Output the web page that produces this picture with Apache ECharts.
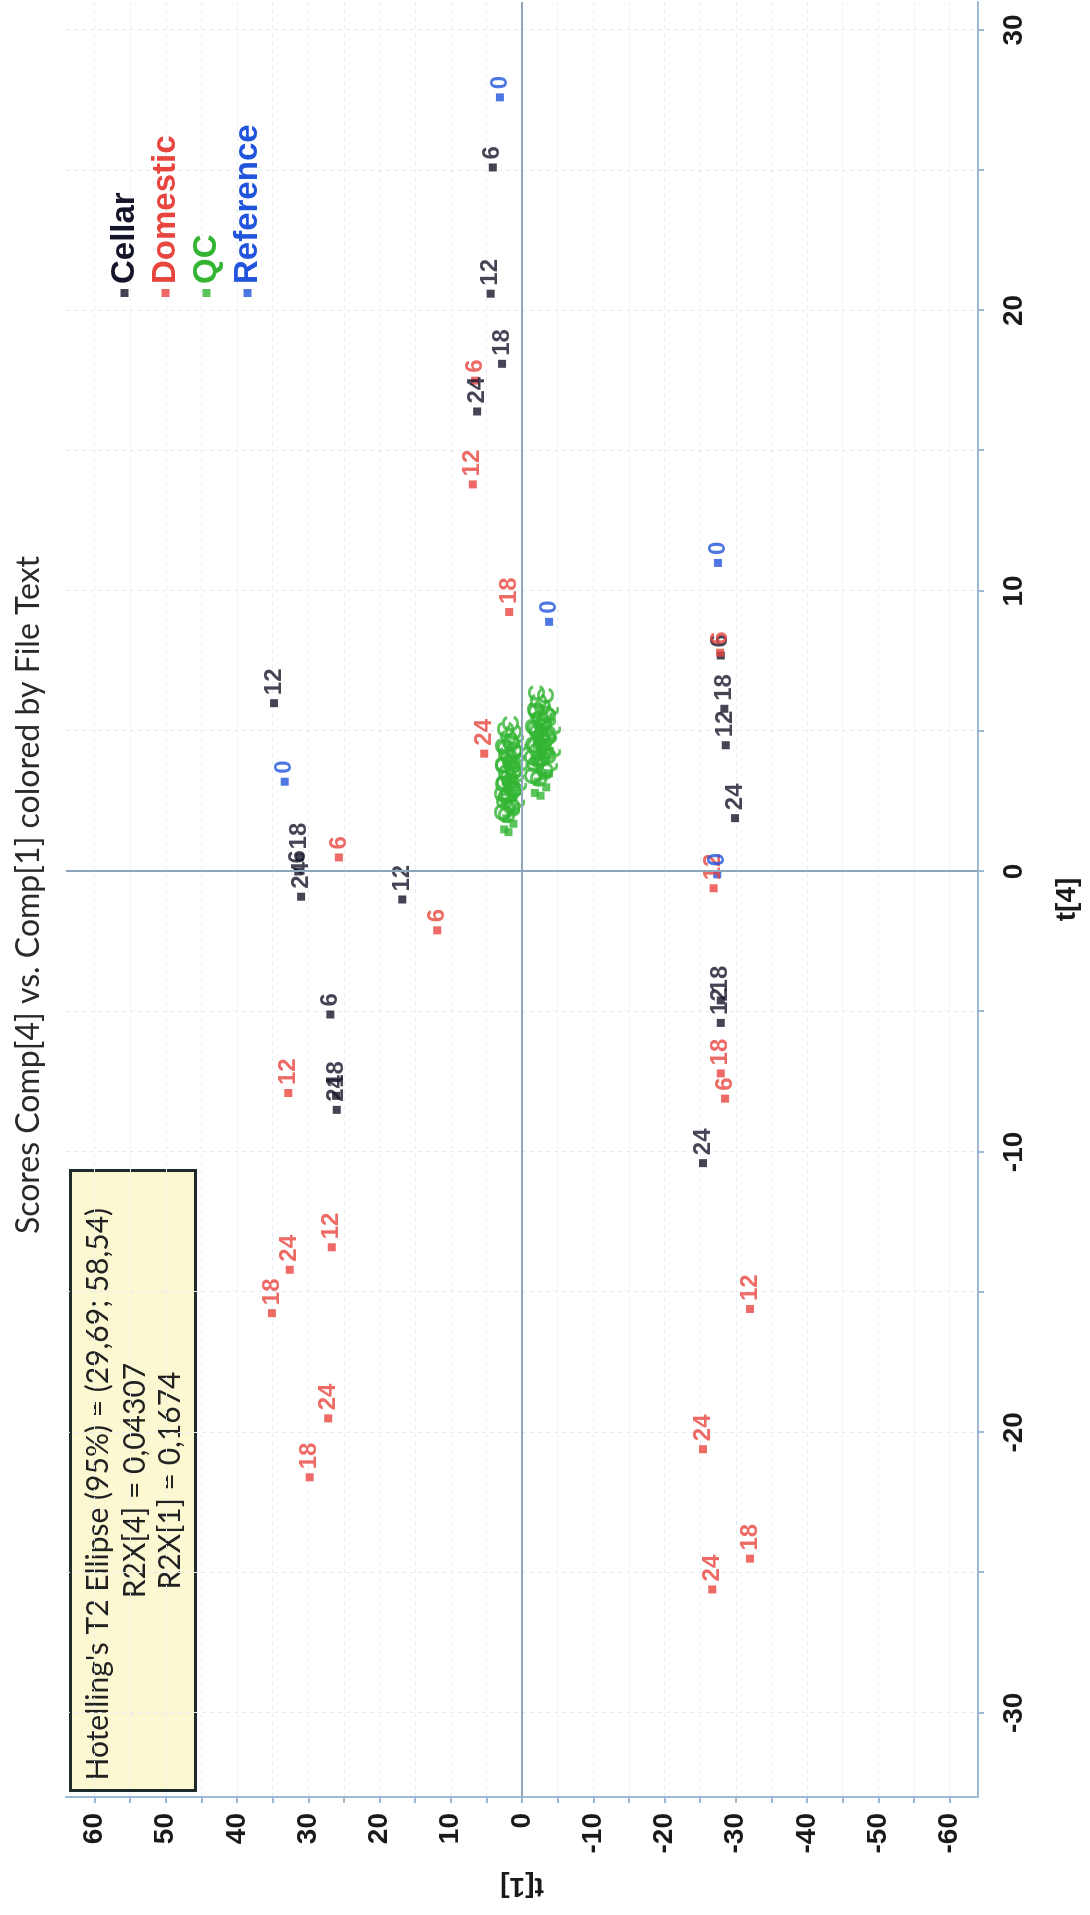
<!DOCTYPE html>
<html><head><meta charset="utf-8">
<script src="https://cdn.jsdelivr.net/npm/echarts@6/dist/echarts.min.js"></script>
<style>
html,body{margin:0;padding:0;background:#fff;overflow:hidden;width:1090px;height:1915px;}
#chart{position:absolute;left:0;top:0;width:1915px;height:1090px;transform-origin:0 0;transform:translate(0,1915px) rotate(-90deg);}
</style></head><body><div id="chart"></div>
<script>
// Series: labels (time points), t[4] and t[1] scores
const cellarLabels = ['6','12','18','24','6','18','12','24','12','24','6','18','12','6','24','18','12','18','24'];
const cellarT4 = [25.1,20.6,18.1,16.4,7.7,5.8,4.5,1.9,6.0,-0.9,0.0,0.5,-1.0,-5.1,-8.5,-8.0,-5.4,-4.6,-10.4];
const cellarT1 = [4.1,4.4,2.8,6.3,-27.9,-28.4,-28.6,-29.9,34.8,31.0,31.4,31.2,16.8,26.9,26.0,26.1,-27.9,-27.9,-25.4];

const domesticLabels = ['6','12','18','24','6','6','6','12','12','18','6','12','24','18','24','18','12','24','18','24'];
const domesticT4 = [17.5,13.8,9.25,4.2,7.8,0.5,-2.1,-7.9,-0.6,-7.2,-8.1,-13.4,-14.2,-15.75,-19.5,-21.6,-15.6,-20.6,-24.5,-25.6];
const domesticT1 = [6.6,6.9,1.8,5.3,-27.8,25.7,11.9,32.8,-26.9,-27.9,-28.5,26.7,32.6,35.1,27.2,29.8,-32.0,-25.4,-32.0,-26.7];

const qcT4 = [1.5,1.4,1.7,1.9,2.1,2.3,2.5,2.6,2.9,3.0,3.2,3.3,3.5,3.7,3.8,4.0,2.8,2.7,3.0,3.2,3.4,3.5,3.7,3.9,4.0,4.2,4.3,4.5,4.6,4.8,5.0,5.1];
const qcT1 = [2.5,1.9,1.2,2.2,1.6,0.9,2.4,1.4,1.9,0.8,2.3,1.2,1.7,0.9,2.0,1.4,-1.8,-2.6,-3.4,-2.2,-3.0,-3.8,-2.5,-1.9,-3.3,-2.8,-3.9,-2.1,-3.2,-2.6,-3.6,-2.3];

const referenceLabels = ['0','0','0','0','0'];
const referenceT4 = [27.6,8.9,11.0,3.2,-0.1];
const referenceT1 = [3.1,-3.8,-27.5,33.3,-27.4];

const t4TickValues = [-30,-25,-20,-15,-10,-5,0,5,10,15,20,25,30];
const t4LabelValues = [-30,-20,-10,0,10,20,30];
const t1TickValues = [-60,-55,-50,-45,-40,-35,-30,-25,-20,-15,-10,-5,0,5,10,15,20,25,30,35,40,45,50,55,60];
const t1LabelValues = [-60,-50,-40,-30,-20,-10,0,10,20,30,40,50,60];

const titleText = 'Scores Comp[4] vs. Comp[1] colored by File Text';
const boxLines = ["Hotelling's T2 Ellipse (95%) = (29,69; 58,54)", 'R2X[4] = 0,04307', 'R2X[1] = 0,1674'];

const COLORS = {Cellar:'#15152a', Domestic:'#e8453f', QC:'#33b533', Reference:'#2255dd'};

function build(t4, t1, labels){ return t4.map((v,i)=>[v, t1[i], labels ? labels[i] : 'QC']); }

function mkSeries(name, data){
  return {
    name, type:'scatter', data, symbol:'rect', symbolSize:8,
    itemStyle:{color:COLORS[name]},
    label:{show:true, position:'right', distance:4, formatter:p=>p.data[2],
      fontSize:24, fontWeight:'bold', fontFamily:'Liberation Sans', color:COLORS[name]},
    labelLayout:{hideOverlap:false},
    emphasis:{disabled:true}
  };
}

const chart = echarts.init(document.getElementById('chart'), null, {renderer:'canvas'});
const axisLabelStyle = {fontSize:28, fontWeight:'bold', fontFamily:'Liberation Sans', color:'#1a1a1a'};
const splitStyle = {show:true, lineStyle:{color:'#e4edf5', width:1, type:[4,4]}};

const cellarSeries = mkSeries('Cellar', build(cellarT4, cellarT1, cellarLabels));
cellarSeries.markLine = {silent:true, symbol:'none', label:{show:false},
  lineStyle:{color:'#8ea6bc', width:2, type:'solid'}, data:[{xAxis:0},{yAxis:0}]};

chart.setOption({
  animation:false,
  backgroundColor:'#ffffff',
  title:{text:titleText, left:1015, top:8, textAlign:'center',
    textStyle:{fontFamily:'Lato', fontSize:32, fontWeight:'normal', color:'#2a2a2a'}},
  legend:{orient:'vertical', left:1613, top:103, itemGap:8, itemWidth:8, itemHeight:8, icon:'rect',
    textStyle:{fontSize:33, fontWeight:'bold', fontFamily:'Liberation Sans'},
    data:['Cellar','Domestic','QC','Reference'].map(n=>({name:n, textStyle:{color:COLORS[n]}}))},
  grid:{left:118, right:2, top:66, bottom:112, containLabel:false},
  xAxis:{type:'value', min:-33, max:31, splitNumber:13, position:'bottom',
    name:'t[4]', nameLocation:'middle', nameGap:75,
    nameTextStyle:{fontSize:28, fontWeight:'bold', fontFamily:'Liberation Sans', color:'#1a1a1a'},
    axisLine:{show:true, onZero:false, lineStyle:{color:'#9db9d3', width:2}},
    axisTick:{show:true, length:6, customValues:t4TickValues, lineStyle:{color:'#9db9d3', width:2}},
    axisLabel:Object.assign({customValues:t4LabelValues, margin:22}, axisLabelStyle),
    splitLine:splitStyle},
  yAxis:{type:'value', min:-64, max:64, splitNumber:26, position:'left',
    name:'t[1]', nameLocation:'middle', nameGap:75,
    nameTextStyle:{fontSize:28, fontWeight:'bold', fontFamily:'Liberation Sans', color:'#1a1a1a'},
    axisLine:{show:true, onZero:false, lineStyle:{color:'#9db9d3', width:2}},
    axisTick:{show:true, length:6, customValues:t1TickValues, lineStyle:{color:'#9db9d3', width:2}},
    axisLabel:Object.assign({customValues:t1LabelValues, margin:16}, axisLabelStyle),
    splitLine:splitStyle},
  graphic:[{type:'group', left:123, top:69, children:[
    {type:'rect', shape:{x:0, y:0, width:620, height:125}, style:{fill:'#fbf8d2', stroke:'#1f2a2a', lineWidth:3}},
    {type:'text', x:10, y:28, style:{text:boxLines[0], font:'30px Lato', fill:'#222', verticalAlign:'middle', align:'left'}},
    {type:'text', x:310, y:65, style:{text:boxLines[1], font:'30px Lato', fill:'#222', verticalAlign:'middle', align:'center'}},
    {type:'text', x:310, y:100, style:{text:boxLines[2], font:'30px Lato', fill:'#222', verticalAlign:'middle', align:'center'}}
  ]}],
  series:[
    cellarSeries,
    mkSeries('Domestic', build(domesticT4, domesticT1, domesticLabels)),
    mkSeries('QC', build(qcT4, qcT1, null)),
    mkSeries('Reference', build(referenceT4, referenceT1, referenceLabels))
  ]
});
</script></body></html>
